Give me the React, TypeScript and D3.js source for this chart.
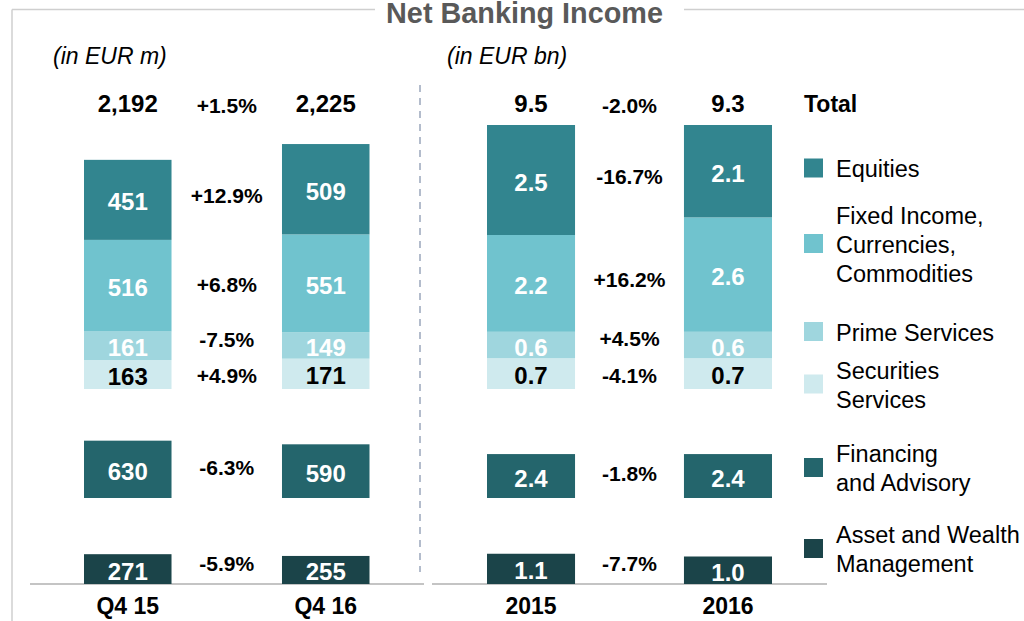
import React from "react";
import * as d3 from "d3";

// ---------- DATA ----------
const categoriesLeft = ["Q4 15", "Q4 16"];
const categoriesRight = ["2015", "2016"];
const segmentKeys = ["equities", "ficc", "prime", "securities", "financing", "awm"];
const legendLabels: string[][] = [
  ["Equities"],
  ["Fixed Income,", "Currencies,", "Commodities"],
  ["Prime Services"],
  ["Securities", "Services"],
  ["Financing", "and Advisory"],
  ["Asset and Wealth", "Management"],
];

// left panel (EUR m)
const leftEquities = [451, 509];
const leftFicc = [516, 551];
const leftPrime = [161, 149];
const leftSecurities = [163, 171];
const leftFinancing = [630, 590];
const leftAwm = [271, 255];
const leftTotals = [2192, 2225];
const leftTotalChange = "+1.5%";
const leftChanges = ["+12.9%", "+6.8%", "-7.5%", "+4.9%", "-6.3%", "-5.9%"];

// right panel (EUR bn)
const rightEquities = [2.5, 2.1];
const rightFicc = [2.2, 2.6];
const rightPrime = [0.6, 0.6];
const rightSecurities = [0.7, 0.7];
const rightFinancing = [2.4, 2.4];
const rightAwm = [1.1, 1.0];
const rightTotals = [9.5, 9.3];
const rightTotalChange = "-2.0%";
const rightChanges = ["-16.7%", "+16.2%", "+4.5%", "-4.1%", "-1.8%", "-7.7%"];

// ---------- STYLE ----------
const colors: Record<string, string> = {
  equities: "#32858f",
  ficc: "#70c3ce",
  prime: "#9fd6de",
  securities: "#cfeaee",
  financing: "#24656c",
  awm: "#1b4449",
};
const labelColor: Record<string, string> = {
  equities: "#fff",
  ficc: "#fff",
  prime: "#fff",
  securities: "#000",
  financing: "#fff",
  awm: "#fff",
};
const FONT = "'Liberation Sans', Arial, Helvetica, sans-serif";

type Panel = {
  cats: string[];
  series: Record<string, number[]>;
  totals: number[];
  totalChange: string;
  changes: string[];
  fmt: (v: number) => string;
  xRange: [number, number];
  padInner: number;
  stackScale: d3.ScaleLinear<number, number>;
  finScale: d3.ScaleLinear<number, number>;
  awmScale: d3.ScaleLinear<number, number>;
  unit: string;
  unitX: number;
};

const STACK_BOTTOM = 389;
const FIN_BOTTOM = 498;
const AWM_BOTTOM = 584;

const panels: Panel[] = [
  {
    cats: categoriesLeft,
    series: {
      equities: leftEquities,
      ficc: leftFicc,
      prime: leftPrime,
      securities: leftSecurities,
      financing: leftFinancing,
      awm: leftAwm,
    },
    totals: leftTotals,
    totalChange: leftTotalChange,
    changes: leftChanges,
    fmt: d3.format(","),
    xRange: [84, 369.5],
    padInner: 0.558,
    stackScale: d3.scaleLinear().domain([0, 1000]).range([0, 177.5]),
    finScale: d3.scaleLinear().domain([0, 1000]).range([0, 91]),
    awmScale: d3.scaleLinear().domain([0, 1000]).range([0, 110]),
    unit: "(in EUR m)",
    unitX: 53,
  },
  {
    cats: categoriesRight,
    series: {
      equities: rightEquities,
      ficc: rightFicc,
      prime: rightPrime,
      securities: rightSecurities,
      financing: rightFinancing,
      awm: rightAwm,
    },
    totals: rightTotals,
    totalChange: rightTotalChange,
    changes: rightChanges,
    fmt: d3.format(".1f"),
    xRange: [487, 772],
    padInner: 0.553,
    stackScale: d3.scaleLinear().domain([0, 1]).range([0, 44]),
    finScale: d3.scaleLinear().domain([0, 1]).range([0, 18.3]),
    awmScale: d3.scaleLinear().domain([0, 1]).range([0, 27.5]),
    unit: "(in EUR bn)",
    unitX: 447,
  },
];

const stackKeys = ["securities", "prime", "ficc", "equities"]; // bottom → top
const changeNudge: Record<string, number> = {
  equities: 8,
  ficc: 8,
  prime: 1,
  securities: 9,
  financing: 5,
  awm: 1,
};

function PanelView({ p }: { p: Panel }) {
  const x = d3.scaleBand<string>().domain(p.cats).range(p.xRange).paddingInner(p.padInner).paddingOuter(0);
  const bw = x.bandwidth();
  const table = p.cats.map((c, i) => {
    const row: any = { cat: c };
    segmentKeys.forEach((k) => (row[k] = p.series[k][i]));
    return row;
  });
  const stacked = d3.stack<any>().keys(stackKeys)(table);

  type Block = { key: string; cat: string; y0: number; y1: number; value: number };
  const blocks: Block[] = [];
  stacked.forEach((layer) => {
    layer.forEach((d, i) => {
      blocks.push({
        key: layer.key,
        cat: p.cats[i],
        y0: STACK_BOTTOM - p.stackScale(d[0]),
        y1: STACK_BOTTOM - p.stackScale(d[1]),
        value: p.series[layer.key][i],
      });
    });
  });
  p.cats.forEach((c, i) => {
    const f = p.series.financing[i];
    blocks.push({ key: "financing", cat: c, y0: FIN_BOTTOM, y1: FIN_BOTTOM - p.finScale(f), value: f });
    const a = p.series.awm[i];
    blocks.push({ key: "awm", cat: c, y0: AWM_BOTTOM, y1: AWM_BOTTOM - p.awmScale(a), value: a });
  });

  const midX = (x(p.cats[0])! + bw + x(p.cats[1])!) / 2;

  return (
    <g>
      <text x={p.unitX} y={64} fontSize={23} fontStyle="italic" fill="#000">
        {p.unit}
      </text>
      {blocks.map((b, i) => (
        <g key={i}>
          <rect x={x(b.cat)} y={b.y1} width={bw} height={b.y0 - b.y1} fill={colors[b.key]} />
          <text
            x={x(b.cat)! + bw / 2}
            y={(b.y0 + b.y1) / 2 + 10.5}
            textAnchor="middle"
            fontSize={24}
            fontWeight="bold"
            fill={labelColor[b.key]}
          >
            {p.fmt(b.value)}
          </text>
        </g>
      ))}
      {segmentKeys.map((k, si) => {
        const bs = blocks.filter((b) => b.key === k);
        const cy = d3.mean(bs, (b) => (b.y0 + b.y1) / 2)!;
        return (
          <text key={k} x={midX} y={cy + changeNudge[k]} textAnchor="middle" fontSize={21} fontWeight="bold" fill="#000">
            {p.changes[si]}
          </text>
        );
      })}
      {p.cats.map((c, i) => (
        <g key={c}>
          <text x={x(c)! + bw / 2} y={112} textAnchor="middle" fontSize={24} fontWeight="bold" fill="#000">
            {p.fmt(p.totals[i])}
          </text>
          <text x={x(c)! + bw / 2} y={614} textAnchor="middle" fontSize={23} fontWeight="bold" fill="#000">
            {c}
          </text>
        </g>
      ))}
      <text x={midX} y={113} textAnchor="middle" fontSize={21} fontWeight="bold" fill="#000">
        {p.totalChange}
      </text>
    </g>
  );
}

const legendCenters = [168, 243.5, 331.5, 384, 467.5, 548.5];

export default function App() {
  return (
    <svg
      width={1024}
      height={621}
      style={{ position: "absolute", left: 0, top: 0, background: "#fff" }}
      fontFamily={FONT}
    >
      {/* frame */}
      <line x1={12} y1={9.5} x2={12} y2={621} stroke="#cfcfcf" strokeWidth={1.5} />
      <line x1={12} y1={9.5} x2={375} y2={9.5} stroke="#cfcfcf" strokeWidth={1.5} />
      <line x1={684} y1={9.5} x2={1024} y2={9.5} stroke="#cfcfcf" strokeWidth={1.5} />
      <text x={524.5} y={22.5} textAnchor="middle" fontSize={28.8} fontWeight="bold" fill="#595959">
        Net Banking Income
      </text>

      {/* separator */}
      <line x1={420} y1={85} x2={420} y2={572} stroke="#b3bccc" strokeWidth={2} strokeDasharray="7 6" />

      {/* baselines */}
      <line x1={30} y1={584} x2={424} y2={584} stroke="#c4c4c4" strokeWidth={2} />
      <line x1={432} y1={584} x2={827} y2={584} stroke="#c4c4c4" strokeWidth={2} />

      {panels.map((p, i) => (
        <PanelView key={i} p={p} />
      ))}

      {/* legend */}
      <text x={804} y={112} fontSize={23} fontWeight="bold" fill="#000">
        Total
      </text>
      {segmentKeys.map((k, i) => {
        const cy = legendCenters[i];
        const lines = legendLabels[i];
        return (
          <g key={k}>
            <rect x={804} y={cy - 9.5} width={19} height={19} fill={colors[k]} />
            {lines.map((l, j) => (
              <text key={j} x={836} y={cy + 9 + (j - (lines.length - 1) / 2) * 29} fontSize={23.5} fill="#000">
                {l}
              </text>
            ))}
          </g>
        );
      })}
    </svg>
  );
}
